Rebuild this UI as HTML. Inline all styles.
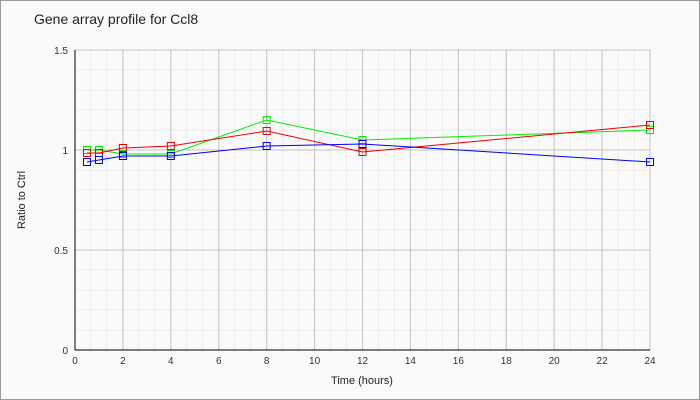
<!DOCTYPE html>
<html><head><meta charset="utf-8"><style>
body{margin:0;background:#fff}
svg{display:block;font-family:"Liberation Sans",sans-serif}
</style></head><body>
<svg width="700" height="400" xmlns="http://www.w3.org/2000/svg">
<rect x="0.5" y="0.5" width="699" height="399" fill="#fafafa" stroke="#999"/>
<text x="34" y="24" font-size="14" fill="#222">Gene array profile for Ccl8</text>
<g id="grid"></g>
<line x1="75" y1="50" x2="75" y2="350" stroke="#000"/>
<line x1="75" y1="350" x2="650" y2="350" stroke="#000"/>
<g font-size="10" fill="#333" text-anchor="end">
<text x="68" y="54">1.5</text><text x="68" y="154">1</text><text x="68" y="254">0.5</text><text x="68" y="354">0</text>
</g>
<g font-size="10" fill="#333" text-anchor="middle" id="xl"></g>
<text x="362" y="384" font-size="11" text-anchor="middle" fill="#222">Time (hours)</text>
<text transform="translate(25,200) rotate(-90)" font-size="11" text-anchor="middle" fill="#222">Ratio to Ctrl</text>
<g id="series"></g>
<script>
var ns="http://www.w3.org/2000/svg";
function el(p,t,a){var e=document.createElementNS(ns,t);for(var k in a)e.setAttribute(k,a[k]);p.appendChild(e);return e;}
var g=document.getElementById("grid");
function X(h){return 75+h*575/24;}
function Y(v){return 350-v*200;}
for(var i=0;i<=36;i++){var x=X(i*2/3);el(g,"line",{x1:x,y1:50,x2:x,y2:350,stroke:"#ececec"});}
for(var i=0;i<=15;i++){var y=50+i*20;el(g,"line",{x1:75,y1:y,x2:650,y2:y,stroke:"#ececec"});}
var xl=document.getElementById("xl");
for(var h=0;h<=24;h+=2){var x=X(h);if(h>0)el(g,"line",{x1:x,y1:50,x2:x,y2:350,stroke:"#c4c4c4"});var t=el(xl,"text",{x:x,y:364});t.textContent=h;}
[1.5,1,0.5].forEach(function(v){el(g,"line",{x1:75,y1:Y(v),x2:650,y2:Y(v),stroke:"#c4c4c4"});});
var hs=[0.5,1,2,4,8,12,24];
var S=[["#00ee00",[1.0,1.0,0.98,0.98,1.15,1.05,1.10]],["#ee0000",[0.985,0.985,1.01,1.02,1.095,0.99,1.125]],["#0000ee",[0.94,0.95,0.97,0.97,1.02,1.03,0.94]]];
var sg=document.getElementById("series");
S.forEach(function(s){var pts=hs.map(function(h,i){return X(h)+","+Y(s[1][i]);}).join(" ");
el(sg,"polyline",{points:pts,fill:"none",stroke:s[0],"stroke-width":1});
hs.forEach(function(h,i){el(sg,"rect",{x:X(h)-3.5,y:Y(s[1][i])-3.5,width:7,height:7,fill:"none",stroke:s[0]});});});
</script>
</svg>
</body></html>
